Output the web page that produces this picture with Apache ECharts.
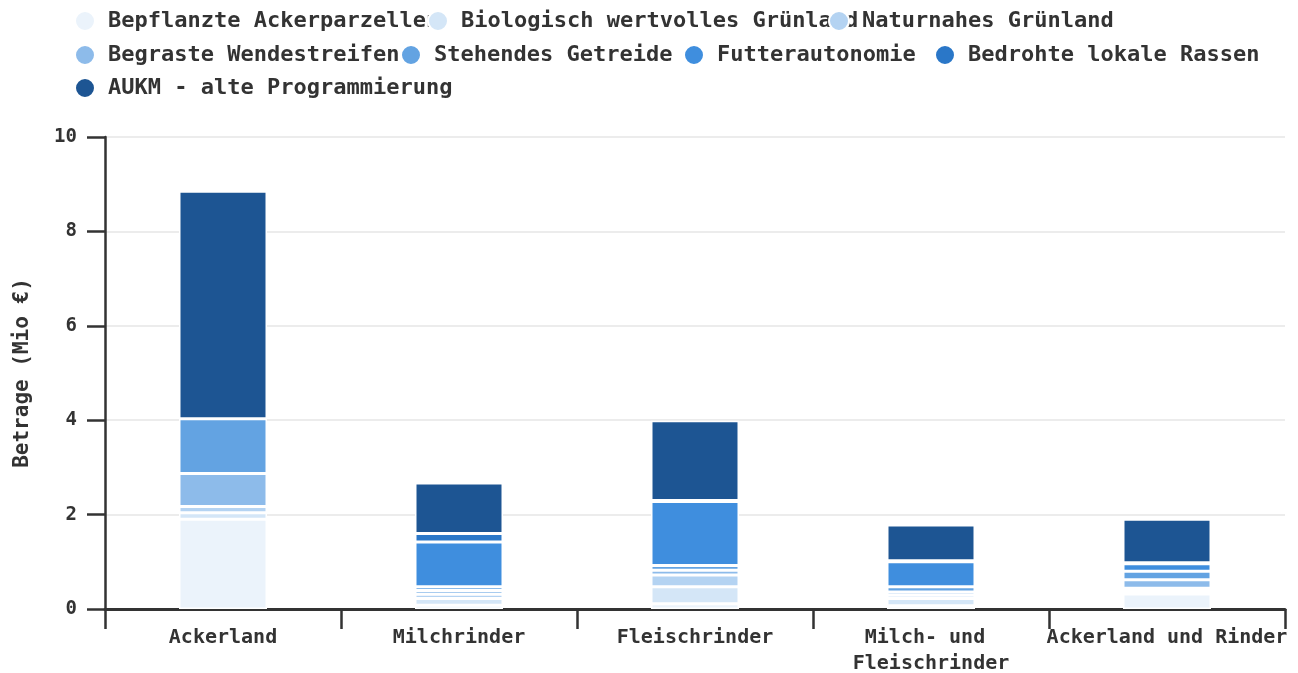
<!DOCTYPE html>
<html>
<head>
<meta charset="utf-8">
<script src="https://cdn.jsdelivr.net/npm/echarts@6/dist/echarts.min.js"></script>
<style>
  html, body { margin: 0; padding: 0; background: #fff; }
  #chart { width: 1298px; height: 673px; }
</style>
</head>
<body>
<div id="chart"></div>
<script>
// Kategorien (x-Achse)
const categories = ['Ackerland', 'Milchrinder', 'Fleischrinder', 'Milch- und Fleischrinder', 'Ackerland und Rinder'];

// Beträge in Mio € je Maßnahme
const bepflanzte = [1.90, 0.08, 0.11, 0.07, 0.32];
const biologisch = [0.14, 0.14, 0.36, 0.15, 0.06];
const naturnahes = [0.13, 0.09, 0.25, 0.07, 0.06];
const begraste = [0.70, 0.08, 0.10, 0.07, 0.18];
const stehendes = [1.16, 0.08, 0.10, 0.11, 0.18];
const futter = [0, 0.95, 1.36, 0.53, 0.16];
const bedrohte = [0, 0.18, 0.02, 0.02, 0.02];
const aukm = [4.82, 1.07, 1.69, 0.76, 0.92];

const seriesNames = [
  'Bepflanzte Ackerparzellen',
  'Biologisch wertvolles Grünland',
  'Naturnahes Grünland',
  'Begraste Wendestreifen',
  'Stehendes Getreide',
  'Futterautonomie',
  'Bedrohte lokale Rassen',
  'AUKM - alte Programmierung'
];
const seriesData = [bepflanzte, biologisch, naturnahes, begraste, stehendes, futter, bedrohte, aukm];
const colors = ['#ebf3fb', '#d4e6f7', '#b4d3f2', '#8dbbea', '#63a3e2', '#3f8ede', '#2a77c8', '#1d5593'];

const font = 'DejaVu Sans Mono';
const textColor = '#333';

// Legendenpositionen (x der Legende, Zeile)
const legendPos = [[74, 0], [427, 0], [828, 0], [74, 1], [400, 1], [683, 1], [934, 1], [74, 2]];
const rowTop = [10, 44, 77];

const myChart = echarts.init(document.getElementById('chart'));

const legends = seriesNames.map((name, i) => ({
  data: [name],
  left: legendPos[i][0],
  top: rowTop[legendPos[i][1]],
  padding: 0,
  icon: 'circle',
  itemWidth: 36,
  itemHeight: 20,
  selectedMode: false,
  textStyle: {
    fontFamily: font,
    fontSize: 22,
    fontWeight: 'bold',
    color: textColor
  }
}));

myChart.setOption({
  animation: false,
  color: colors,
  legend: legends,
  grid: {
    left: 105,
    right: 13,
    top: 137,
    bottom: 64,
    containLabel: false,
    outerBoundsMode: 'none'
  },
  xAxis: {
    type: 'category',
    data: categories,
    axisLine: {
      show: true,
      lineStyle: { color: '#333', width: 3 }
    },
    axisTick: {
      show: true,
      interval: 0,
      length: 20,
      lineStyle: { color: '#333', width: 2.5 }
    },
    axisLabel: {
      interval: 0,
      margin: 16,
      width: 250,
      overflow: 'break',
      lineHeight: 26,
      fontFamily: font,
      fontSize: 20,
      fontWeight: 'bold',
      color: textColor
    }
  },
  yAxis: {
    type: 'value',
    min: 0,
    max: 10,
    interval: 2,
    name: 'Betrage (Mio €)',
    nameLocation: 'middle',
    nameGap: 72,
    nameTextStyle: {
      fontFamily: font,
      fontSize: 21,
      fontWeight: 'bold',
      color: textColor
    },
    axisLine: {
      show: true,
      lineStyle: { color: '#333', width: 2.5 }
    },
    axisTick: {
      show: true,
      length: 18,
      lineStyle: { color: '#333', width: 2.5 }
    },
    axisLabel: {
      margin: 28,
      fontFamily: font,
      fontSize: 19,
      fontWeight: 'bold',
      color: textColor
    },
    splitLine: {
      lineStyle: { color: '#e6e6e6', width: 1.5 }
    }
  },
  series: seriesNames.map((name, i) => ({
    name: name,
    type: 'bar',
    stack: 'total',
    barWidth: 88,
    data: seriesData[i],
    itemStyle: {
      borderColor: '#fff',
      borderWidth: 1.5
    }
  }))
});
</script>
</body>
</html>
